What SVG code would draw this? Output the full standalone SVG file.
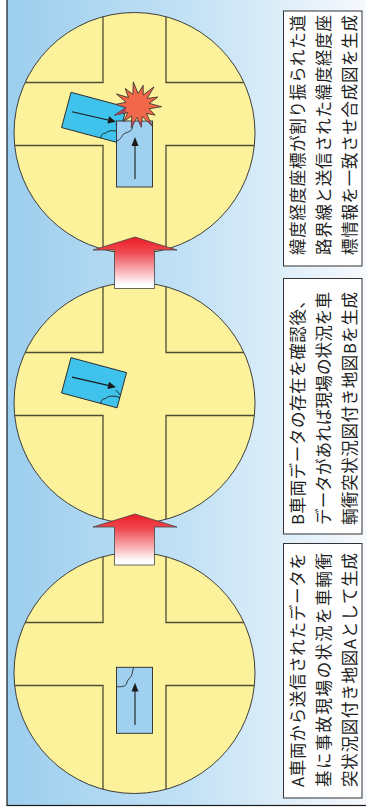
<svg xmlns="http://www.w3.org/2000/svg" xmlns:xlink="http://www.w3.org/1999/xlink" width="366" height="807" viewBox="0 0 366 807">
  <defs>
    <linearGradient id="bg" x1="7" y1="0" x2="366" y2="0" gradientUnits="userSpaceOnUse">
      <stop offset="0" stop-color="#9cceee"/>
      <stop offset="0.5" stop-color="#c2e1f5"/>
      <stop offset="1" stop-color="#f6f9fd"/>
    </linearGradient>
    <linearGradient id="upGrad" x1="0" y1="0" x2="0" y2="1">
      <stop offset="0" stop-color="#ec1c24"/>
      <stop offset="0.3" stop-color="#ef4a52"/>
      <stop offset="0.92" stop-color="#ffffff"/>
      <stop offset="1" stop-color="#ffffff"/>
    </linearGradient>
    <style>
      .disc { fill: #fdf29c; stroke: #2a2a2a; stroke-width: 0.9; }
      .road { fill: none; stroke: #4f4b36; stroke-width: 1.3; }
      .carA { fill: #9fd0ef; stroke: #2a2a2a; stroke-width: 0.9; }
      .carB { fill: #3fc3ec; stroke: #2a2a2a; stroke-width: 0.9; }
      .dir { stroke: #1a1a1a; stroke-width: 1.1; fill: none; }
      .head { fill: #1a1a1a; }
      .dent { fill: none; stroke: #1a1a1a; stroke-width: 0.8; }
      .flow { fill: url(#upGrad); stroke: #444; stroke-width: 0.8; }
      .box { fill: #ffffff; stroke: #333; stroke-width: 1; }
      .cap { font-family: "Noto Sans CJK JP", "Noto Sans", sans-serif; font-size: 16.5px; fill: #1e1e1e; dominant-baseline: central; }
    </style>
    <!-- crossroads disc, centred at y = 0 -->
    <g id="junction">
      <circle class="disc" cx="134.5" cy="0" r="120.5"/>
      <path class="road" d="M103,-116.3 V-50.5 H25.1"/>
      <path class="road" d="M166,-116.3 V-50.5 H243.9"/>
      <path class="road" d="M103,116.3 V12.5 H14.65"/>
      <path class="road" d="M166,116.3 V12.5 H254.35"/>
    </g>
    <!-- vehicle B in its own frame (before rotation) -->
    <g id="vehB">
      <rect class="carB" x="0" y="0" width="57.5" height="36.5"/>
      <line class="dir" x1="6" y1="18.5" x2="44" y2="17.1"/>
      <polygon class="head" points="51,16.8 43,13.3 43.3,20.8"/>
      <path class="dent" d="M40.5,36.5 C40,33 41.5,31 44,30.5 C46,27 50,25.5 57.5,25.8"/>
      <path class="dent" d="M51.5,19.5 L57.5,23.5"/>
    </g>
    <clipPath id="carsClip">
      <rect x="0" y="0" width="57.5" height="36.5" transform="translate(71,92.3) rotate(15)"/>
      <rect x="116.5" y="121" width="36" height="66"/>
    </clipPath>
  </defs>

  <!-- framed background -->
  <rect x="7" y="-2" width="362" height="807.5" fill="url(#bg)" stroke="#1a1a1a" stroke-width="1.2"/>

  <!-- top panel: merged collision map -->
  <g id="panel-merged">
    <use xlink:href="#junction" y="133"/>
    <use xlink:href="#vehB" transform="translate(71,92.3) rotate(15)"/>
    <g id="merged-carA">
      <rect class="carA" x="116.5" y="121" width="36" height="66"/>
      <line class="dir" x1="135" y1="179" x2="135" y2="144"/>
      <polygon class="head" points="135,137 131.5,146 138.5,146"/>
      <path class="dent" d="M133.5,121 L132,129 C130,132.5 126.5,132 123.5,134 C121.5,136 121.5,139.5 116.5,141"/>
    </g>
    <g id="impact">
      <polygon fill="#f0674a" stroke="#2a2a2a" stroke-width="0.8" points="133.3,81.9 138.1,93.5 143.2,85.3 143.2,95 154,86.8 147.2,98.5 157.8,97 149.3,103.4 161.5,106.7 149.1,108.8 155.1,115.1 146.5,113.4 152.1,125.8 142.2,116.6 141.3,127.2 136.9,117.5 131.3,127.6 131.8,116 123.6,121.3 127.8,112.5 114.5,115.2 125.7,107.6 115.5,104.4 126,102.3 116.4,94 128.5,97.6 125.2,88.5 132.8,94.4"/>
      <polygon fill="#a3455b" clip-path="url(#carsClip)" points="133.3,81.9 138.1,93.5 143.2,85.3 143.2,95 154,86.8 147.2,98.5 157.8,97 149.3,103.4 161.5,106.7 149.1,108.8 155.1,115.1 146.5,113.4 152.1,125.8 142.2,116.6 141.3,127.2 136.9,117.5 131.3,127.6 131.8,116 123.6,121.3 127.8,112.5 114.5,115.2 125.7,107.6 115.5,104.4 126,102.3 116.4,94 128.5,97.6 125.2,88.5 132.8,94.4"/>
    </g>
  </g>

  <!-- middle panel: map B -->
  <g id="panel-b">
    <use xlink:href="#junction" y="403"/>
    <use xlink:href="#vehB" transform="translate(71,357.7) rotate(15)"/>
  </g>

  <!-- bottom panel: map A -->
  <g id="panel-a">
    <use xlink:href="#junction" y="673"/>
    <rect class="carA" x="116.5" y="667.3" width="36" height="66"/>
    <line class="dir" x1="135" y1="725" x2="135" y2="690"/>
    <polygon class="head" points="135,682.7 131.5,691.5 138.5,691.5"/>
    <path class="dent" d="M133.5,667.3 L131.8,675 C130,679 127.5,679 126.7,683 C126,686 124.5,686.8 116.5,686.8"/>
  </g>

  <!-- upward flow arrows -->
  <g id="connectors">
    <polygon class="flow" points="135,237 177,250 154.5,250 154.5,288.5 114.5,288.5 114.5,250 93,250"/>
    <polygon class="flow" points="135,514 177,527 154.5,527 154.5,565 114.5,565 114.5,527 93,527"/>
  </g>

  <!-- captions -->
  <g id="caption-merged">
    <rect class="box" x="283.5" y="11" width="78.5" height="255"/>
    <g transform="rotate(-90)">
      <text class="cap" x="-255" y="296.5" textLength="240" lengthAdjust="spacing">緯度経度座標が割り振られた道</text>
      <text class="cap" x="-255" y="322.5" textLength="240" lengthAdjust="spacing">路界線と送信された緯度経度座</text>
      <text class="cap" x="-255" y="348.5" textLength="240" lengthAdjust="spacing">標情報を一致させ合成図を生成</text>
    </g>
  </g>
  <g id="caption-b">
    <rect class="box" x="283.5" y="278.5" width="78.5" height="255.5"/>
    <g transform="rotate(-90)">
      <text class="cap" x="-525" y="296.5" textLength="233" lengthAdjust="spacing">B車両データの存在を確認後、</text>
      <text class="cap" x="-525" y="322.5" textLength="233" lengthAdjust="spacing">データがあれば現場の状況を車</text>
      <text class="cap" x="-525" y="348.5" textLength="233" lengthAdjust="spacing">輌衝突状況図付き地図Bを生成</text>
    </g>
  </g>
  <g id="caption-a">
    <rect class="box" x="283.5" y="543.5" width="78.5" height="254.5"/>
    <g transform="rotate(-90)">
      <text class="cap" x="-787" y="296.5" textLength="234" lengthAdjust="spacing">A車両から送信されたデータを</text>
      <text class="cap" x="-787" y="322.5" textLength="234" lengthAdjust="spacing">基に事故現場の状況を車輌衝</text>
      <text class="cap" x="-787" y="348.5" textLength="234" lengthAdjust="spacing">突状況図付き地図Aとして生成</text>
    </g>
  </g>
</svg>
